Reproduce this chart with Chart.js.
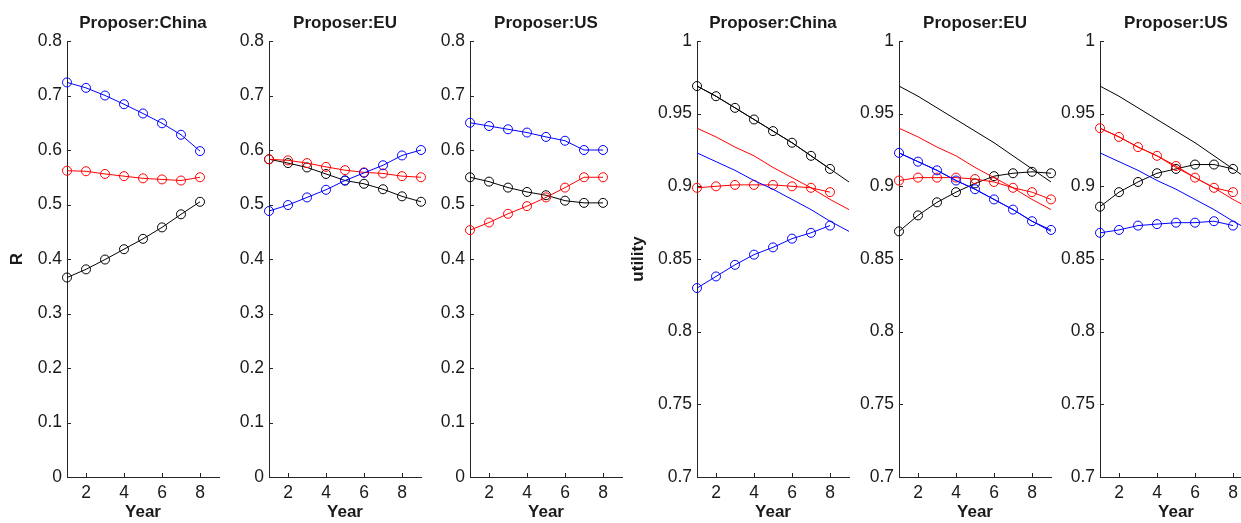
<!DOCTYPE html>
<html>
<head>
<meta charset="utf-8">
<script src="https://cdn.jsdelivr.net/npm/chart.js@4.4.0/dist/chart.umd.min.js"></script>
<style>
html, body { margin:0; padding:0; background:#fff; width:1241px; height:523px; overflow:hidden; position:relative; }
canvas { position:absolute; top:0; }
</style>
</head>
<body>
<script>
// years on the x axis
var years8 = [1, 2, 3, 4, 5, 6, 7, 8];
var years9 = [1, 2, 3, 4, 5, 6, 7, 8, 9];

// tick labels
var xTickValues = [2, 4, 6, 8];
var rTickValues = [0, 0.1, 0.2, 0.3, 0.4, 0.5, 0.6, 0.7, 0.8];
var uTickValues = [0.7, 0.75, 0.8, 0.85, 0.9, 0.95, 1];

var panelTitles = ["Proposer:China", "Proposer:EU", "Proposer:US"];

// R, proposer China
var rChinaBlue  = [0.724, 0.714, 0.700, 0.684, 0.667, 0.649, 0.628, 0.598];
var rChinaRed   = [0.562, 0.561, 0.556, 0.552, 0.548, 0.546, 0.544, 0.550];
var rChinaBlack = [0.366, 0.381, 0.399, 0.418, 0.437, 0.458, 0.482, 0.505];
// R, proposer EU
var rEUBlue  = [0.488, 0.499, 0.513, 0.527, 0.544, 0.558, 0.572, 0.590, 0.600];
var rEURed   = [0.583, 0.581, 0.576, 0.569, 0.563, 0.559, 0.557, 0.552, 0.550];
var rEUBlack = [0.583, 0.576, 0.568, 0.556, 0.544, 0.538, 0.528, 0.515, 0.505];
// R, proposer US
var rUSBlue  = [0.650, 0.644, 0.638, 0.632, 0.624, 0.617, 0.600, 0.600];
var rUSRed   = [0.453, 0.467, 0.483, 0.497, 0.513, 0.531, 0.550, 0.550];
var rUSBlack = [0.550, 0.542, 0.531, 0.523, 0.517, 0.507, 0.503, 0.503];

// utility reference lines (same in all three utility panels)
var uRefBlack = [0.969, 0.962, 0.954, 0.946, 0.938, 0.930, 0.921, 0.912, 0.903];
var uRefRed   = [0.940, 0.934, 0.927, 0.921, 0.913, 0.906, 0.899, 0.891, 0.884];
var uRefBlue  = [0.923, 0.917, 0.911, 0.904, 0.898, 0.891, 0.884, 0.876, 0.869];
// utility, proposer China
var uChinaBlack = [0.969, 0.962, 0.954, 0.946, 0.938, 0.930, 0.921, 0.912];
var uChinaRed   = [0.899, 0.900, 0.901, 0.901, 0.901, 0.900, 0.899, 0.896];
var uChinaBlue  = [0.830, 0.838, 0.846, 0.853, 0.858, 0.864, 0.868, 0.873];
// utility, proposer EU
var uEUBlue  = [0.923, 0.917, 0.911, 0.904, 0.898, 0.891, 0.884, 0.876, 0.870];
var uEURed   = [0.904, 0.906, 0.906, 0.906, 0.905, 0.903, 0.899, 0.896, 0.891];
var uEUBlack = [0.869, 0.880, 0.889, 0.896, 0.902, 0.907, 0.909, 0.910, 0.909];
// utility, proposer US
var uUSRed   = [0.940, 0.934, 0.927, 0.921, 0.914, 0.906, 0.899, 0.896];
var uUSBlack = [0.886, 0.896, 0.903, 0.909, 0.912, 0.915, 0.915, 0.912];
var uUSBlue  = [0.868, 0.870, 0.873, 0.874, 0.875, 0.875, 0.876, 0.873];

var BLUE = "#0000ff", RED = "#ff0000", BLACK = "#000000";
var TEXT = "#1a1a1a", AXIS = "#262626";
var FONT = "'Liberation Sans', Arial, sans-serif";

function pts(xs, ys){
	return ys.map((v, i) => ({x: xs[i], y: v}));
}
function markerSet(xs, ys, color){
	return {
		data: pts(xs, ys), borderColor: color, borderWidth: 1,
		pointRadius: 4.5, pointBorderWidth: 1, pointBorderColor: color,
		pointBackgroundColor: "rgba(0,0,0,0)", pointStyle: "circle",
		clip: false, tension: 0
	};
}
function plainSet(xs, ys, color){
	return { data: pts(xs, ys), borderColor: color, borderWidth: 1, pointRadius: 0, clip: false, tension: 0 };
}
function fmt(v){
	return String(parseFloat(v.toFixed(2)));
}

// MATLAB style ticks pointing into the plot
var inwardTicks = {
	id: "inwardTicks",
	afterDraw(chart){
		var ctx = chart.ctx, a = chart.chartArea, x = chart.scales.x, y = chart.scales.y;
		ctx.save();
		ctx.strokeStyle = AXIS;
		ctx.lineWidth = 1;
		ctx.beginPath();
		y.ticks.forEach(t => {
			var py = Math.round(y.getPixelForValue(t.value)) + 0.5;
			ctx.moveTo(a.left, py); ctx.lineTo(a.left + 4, py);
		});
		x.ticks.forEach(t => {
			var px = Math.round(x.getPixelForValue(t.value)) + 0.5;
			ctx.moveTo(px, a.bottom); ctx.lineTo(px, a.bottom - 4);
		});
		ctx.stroke();
		ctx.restore();
	}
};

var PLOT_W = 152, PAD_R = 12;

function makePanel(axisX, padL, title, yTitle, yTitlePad, yMin, yMax, yTicks, datasets){
	var canvas = document.createElement("canvas");
	canvas.width = padL + PLOT_W + PAD_R;
	canvas.height = 523;
	canvas.style.left = (axisX - padL) + "px";
	document.body.appendChild(canvas);

	new Chart(canvas, {
		type: "line",
		data: { datasets: datasets },
		plugins: [inwardTicks],
		options: {
			responsive: false,
			animation: false,
			events: [],
			layout: { padding: { left: 0, right: PAD_R, top: 0, bottom: 0 } },
			plugins: {
				legend: { display: false },
				tooltip: { enabled: false },
				title: {
					display: true, text: title, color: TEXT, fullSize: false,
					font: { family: FONT, size: 17, weight: "bold" },
					padding: { top: 13.5, bottom: 7.1 }
				}
			},
			scales: {
				x: {
					type: "linear", min: 1, max: 9,
					afterBuildTicks: s => { s.ticks = xTickValues.map(v => ({value: v})); },
					afterFit: s => { s.height = 46; },
					grid: { display: false, drawTicks: false },
					border: { display: true, color: AXIS, width: 1 },
					ticks: { color: TEXT, font: { family: FONT, size: 17.5 }, padding: 6, maxRotation: 0, callback: v => fmt(v) },
					title: { display: true, text: "Year", color: TEXT, font: { family: FONT, size: 17, weight: "bold" }, padding: { top: 0, bottom: 0 } }
				},
				y: {
					type: "linear", min: yMin, max: yMax,
					afterBuildTicks: s => { s.ticks = yTicks.map(v => ({value: v})); },
					afterFit: s => { s.width = padL; },
					grid: { display: false, drawTicks: false },
					border: { display: true, color: AXIS, width: 1 },
					ticks: { color: TEXT, font: { family: FONT, size: 17.5 }, padding: 5, callback: v => fmt(v) },
					title: { display: yTitle != "", text: yTitle, color: TEXT, font: { family: FONT, size: 17, weight: "bold" }, padding: { top: yTitlePad, bottom: 0 } }
				}
			}
		}
	});
}

document.addEventListener("DOMContentLoaded", function(){
	makePanel(67, 67, panelTitles[0], "R", 7, 0, 0.8, rTickValues, [
		markerSet(years8, rChinaBlue, BLUE),
		markerSet(years8, rChinaRed, RED),
		markerSet(years8, rChinaBlack, BLACK)
	]);
	makePanel(269, 40, panelTitles[1], "", 0, 0, 0.8, rTickValues, [
		markerSet(years9, rEUBlue, BLUE),
		markerSet(years9, rEURed, RED),
		markerSet(years9, rEUBlack, BLACK)
	]);
	makePanel(470, 40, panelTitles[2], "", 0, 0, 0.8, rTickValues, [
		markerSet(years8, rUSBlue, BLUE),
		markerSet(years8, rUSRed, RED),
		markerSet(years8, rUSBlack, BLACK)
	]);
	makePanel(697, 77, panelTitles[0], "utility", 8.5, 0.7, 1, uTickValues, [
		plainSet(years9, uRefBlack, BLACK),
		plainSet(years9, uRefRed, RED),
		plainSet(years9, uRefBlue, BLUE),
		markerSet(years8, uChinaBlack, BLACK),
		markerSet(years8, uChinaRed, RED),
		markerSet(years8, uChinaBlue, BLUE)
	]);
	makePanel(899, 50, panelTitles[1], "", 0, 0.7, 1, uTickValues, [
		plainSet(years9, uRefBlack, BLACK),
		plainSet(years9, uRefRed, RED),
		plainSet(years9, uRefBlue, BLUE),
		markerSet(years9, uEUBlue, BLUE),
		markerSet(years9, uEURed, RED),
		markerSet(years9, uEUBlack, BLACK)
	]);
	makePanel(1100, 50, panelTitles[2], "", 0, 0.7, 1, uTickValues, [
		plainSet(years9, uRefBlack, BLACK),
		plainSet(years9, uRefRed, RED),
		plainSet(years9, uRefBlue, BLUE),
		markerSet(years8, uUSRed, RED),
		markerSet(years8, uUSBlack, BLACK),
		markerSet(years8, uUSBlue, BLUE)
	]);
});
</script>
</body>
</html>
